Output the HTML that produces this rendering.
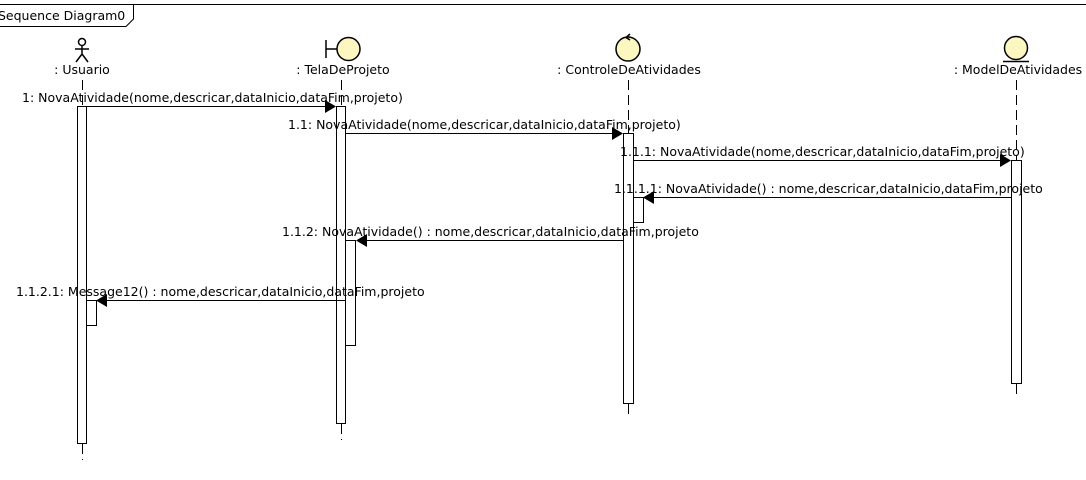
<!DOCTYPE html>
<html><head><meta charset="utf-8"><style>
html,body{margin:0;padding:0;background:#fff;width:1086px;height:480px;overflow:hidden}
text{font-family:"DejaVu Sans","Liberation Sans",sans-serif;font-size:12.5px;fill:#000}
</style></head><body>
<svg width="1086" height="480" viewBox="0 0 1086 480" xmlns="http://www.w3.org/2000/svg">
<g stroke="#000" fill="none" stroke-width="1">
<path d="M0 4.5H1086"/>
<path d="M0 26.5H126L133.5 19V4.5"/>
</g>
<text x="-2" y="20">Sequence Diagram0</text>

<g stroke="#000" fill="none" stroke-width="1.5">
<circle cx="82" cy="42" r="3.5"/>
<path d="M82 45.5V54M75 49H89M82 54L76 62M82 54L88 62"/>
</g>
<text x="82" y="74" text-anchor="middle">: Usuario</text>
<g stroke="#000" stroke-width="1.5">
<path d="M326 40V58M326 49H337" fill="none"/>
<circle cx="348.5" cy="49" r="11.5" fill="#fcf6c0"/>
</g>
<text x="343" y="74" text-anchor="middle">: TelaDeProjeto</text>
<g stroke="#000" stroke-width="1.5">
<circle cx="628" cy="49" r="12" fill="#fcf6c0"/>
<path d="M630 34L626 37.5L630 40" fill="none"/>
</g>
<text x="629" y="74" text-anchor="middle">: ControleDeAtividades</text>
<g stroke="#000" stroke-width="1.5">
<circle cx="1016" cy="48" r="11.5" fill="#fcf6c0"/>
<path d="M1003 61.5H1029" fill="none"/>
</g>
<text x="1018" y="74" text-anchor="middle">: ModelDeAtividades</text>

<g stroke="#000" stroke-width="1" stroke-dasharray="10,5">
<path d="M82.5 80V106M82.5 444V460"/>
<path d="M341.5 80V106M341.5 424V440"/>
<path d="M628.5 80V133M628.5 404V414"/>
<path d="M1016.5 80V160M1016.5 384V396"/>
</g>

<g stroke="#000" fill="#fff" stroke-width="1">
<rect x="77.5" y="106.5" width="9" height="337"/>
<rect x="86.5" y="300.5" width="10" height="25"/>
<rect x="336.5" y="106.5" width="9" height="317"/>
<rect x="345.5" y="240.5" width="10" height="105"/>
<rect x="623.5" y="133.5" width="10" height="270"/>
<rect x="633.5" y="197.5" width="10" height="25"/>
<rect x="1011.5" y="160.5" width="10" height="223"/>
</g>

<g stroke="#000" stroke-width="1">
<path d="M87 106.5H326"/>
<path d="M346 133.5H613"/>
<path d="M634 160.5H1001"/>
<path d="M1011 197.5H653"/>
<path d="M623 240.5H366"/>
<path d="M346 300.5H106"/>
</g>
<g fill="#000">
<path d="M336 106.5L325 100V113Z"/>
<path d="M623 133.5L612 127V140Z"/>
<path d="M1011 160.5L1000 154V167Z"/>
<path d="M643 197.5L654 191V204Z"/>
<path d="M356 240.5L367 234V247Z"/>
<path d="M96 300.5L107 294V307Z"/>
</g>
<text x="22" y="102">1: NovaAtividade(nome,descricar,dataInicio,dataFim,projeto)</text>
<text x="288" y="129">1.1: NovaAtividade(nome,descricar,dataInicio,dataFim,projeto)</text>
<text x="620" y="156">1.1.1: NovaAtividade(nome,descricar,dataInicio,dataFim,projeto)</text>
<text x="614" y="193">1.1.1.1: NovaAtividade() : nome,descricar,dataInicio,dataFim,projeto</text>
<text x="282" y="236">1.1.2: NovaAtividade() : nome,descricar,dataInicio,dataFim,projeto</text>
<text x="16" y="296">1.1.2.1: Message12() : nome,descricar,dataInicio,dataFim,projeto</text>
</svg>
</body></html>
